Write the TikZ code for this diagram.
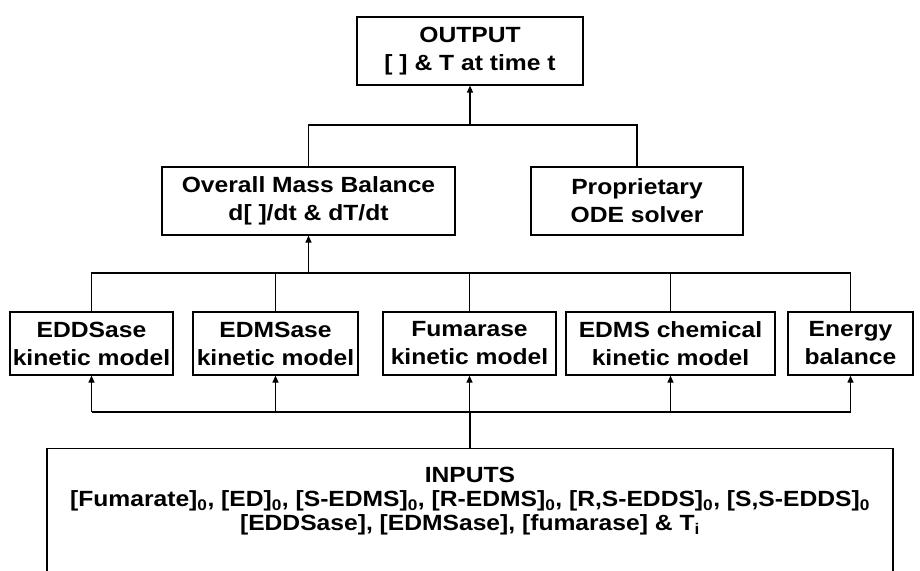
\documentclass[tikz,border=0pt]{standalone}
\usepackage{fontspec}
\setmainfont{Liberation Sans}[FakeStretch=1.12]
\usetikzlibrary{arrows.meta,positioning}
\begin{document}
\begin{tikzpicture}[x=1pt,y=-1pt,
  box/.style={draw,line width=1.2pt,align=center,inner sep=0pt,
    font=\fontsize{22}{28}\selectfont\bfseries},
  txt/.style={align=center,inner sep=0pt,font=\fontsize{22}{24}\selectfont\bfseries},
  ln/.style={line width=1.2pt},
  arr/.style={line width=1.2pt,-{Triangle[length=7pt,width=6pt]}}]
\useasboundingbox (0,0) rectangle (920,570);
\node[box,minimum width=226,minimum height=68] (out) at (470,51) {OUTPUT\\{}[ ] \& T at time t};
\node[box,minimum width=293,minimum height=68] (omb) at (308.5,201) {Overall Mass Balance\\d[ ]/dt \& dT/dt};
\node[box,minimum width=212,minimum height=68] (ode) at (637,201) {Proprietary\\ODE solver};
\node[box,minimum width=163,minimum height=63] (edds) at (91.5,343.5) {EDDSase\\kinetic model};
\node[box,minimum width=165,minimum height=63] (edms) at (275.5,343.5) {EDMSase\\kinetic model};
\node[box,minimum width=173,minimum height=63] (fum) at (469.5,343.5) {Fumarase\\kinetic model};
\node[box,minimum width=209,minimum height=63] (chem) at (670.5,343.5) {EDMS chemical\\kinetic model};
\node[box,minimum width=125,minimum height=63] (energy) at (850.5,343.5) {Energy\\balance};
\node[box,minimum width=846,minimum height=150,anchor=north] (inputs) at (470,448) {};
\node[txt,below=19pt of inputs.north] (inlist) {INPUTS\\
  {}[Fumarate]\textsubscript{0}, [ED]\textsubscript{0}, [S-EDMS]\textsubscript{0}, [R-EDMS]\textsubscript{0}, [R,S-EDDS]\textsubscript{0}, [S,S-EDDS]\textsubscript{0}\\
  {}[EDDSase], [EDMSase], [fumarase] \& T\textsubscript{i}};
\coordinate (j1) at (470,125);
\coordinate (j2) at (308.5,273);
\coordinate (j3) at (470,412);
\draw[ln] (omb.north) |- (j1) -| (ode.north);
\draw[arr] (j1) -- (out.south);
\draw[ln] (edds.north) |- (j2) -| (energy.north);
\draw[ln] (edms.north) -- (edms.north |- j2);
\draw[ln] (fum.north) -- (fum.north |- j2);
\draw[ln] (chem.north) -- (chem.north |- j2);
\draw[arr] (j2) -- (omb.south);
\draw[ln] (inputs.north) -- (j3);
\draw[ln] (edds |- j3) -- (energy |- j3);
\foreach \n in {edds,edms,fum,chem,energy}
  \draw[arr] (\n |- j3) -- (\n.south);
\end{tikzpicture}
\end{document}
